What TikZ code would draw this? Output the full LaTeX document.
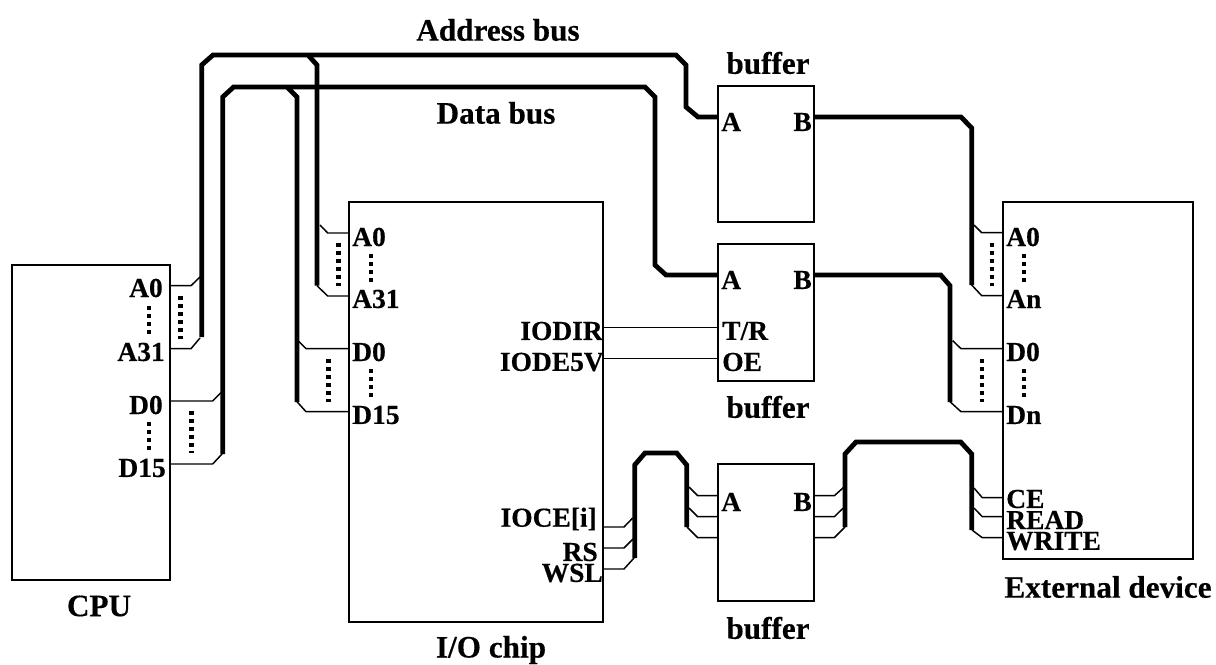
\documentclass[tikz,border=0pt]{standalone}
\usepackage{fontspec}
\setmainfont{Liberation Serif}[BoldFeatures={FakeBold=0.4}]
\tikzset{
  chipbox/.style 2 args={draw,line width=0.9pt,inner sep=0pt,outer sep=0pt,anchor=north west,minimum width=#1*0.75pt,minimum height=#2*0.75pt},
  buswire/.style={line width=3.6pt},
  thinwire/.style={line width=1.1pt},
  dotrun/.style={line width=3.5pt,dash pattern=on 3.3pt off 2.7pt},
  pinlabel/.style={font=\fontsize{20.6}{21}\selectfont\bfseries,inner sep=0pt},
  titlelabel/.style={font=\fontsize{23.4}{24}\selectfont\bfseries,inner sep=0pt}
}
\begin{document}
\begin{tikzpicture}[x=0.75pt,y=-0.75pt]
    \useasboundingbox (0,0) rectangle (1216,664);
    \begin{scope}
        % blocks
        \node[chipbox={158}{315}] (cpu) at (12,265) {};
        \node[chipbox={254}{420}] (iochip) at (349,202) {};
        \node[chipbox={96}{136}] (bufAddr) at (718,86) {};
        \node[chipbox={96}{137}] (bufData) at (718,244) {};
        \node[chipbox={96}{137}] (bufCtl) at (718,464) {};
        \node[chipbox={190}{357}] (extdev) at (1003,202) {};
        % titles
        \node[titlelabel] (addrTitle) at (498,30) {Address bus};
        \node[titlelabel] (dataTitle) at (496,113) {Data bus};
        \node[titlelabel] (bufAddrTitle) at (768,63) {buffer};
        \node[titlelabel] (bufDataTitle) at (768,407) {buffer};
        \node[titlelabel] (bufCtlTitle) at (768,628) {buffer};
        \node[titlelabel] (cpuTitle) at (99,606) {CPU};
        \node[titlelabel] (ioTitle) at (491,650) {I/O chip};
        \node[titlelabel] (extTitle) at (1108,587) {External device};
        % pin labels
        \foreach \nm/\x/\y/\txt in {cA0/163/288/A0,cA31/165/352/A31,cD0/163/405/D0,cD15/166/468/D15,
                ioCE/597/519/IOCE[i],ioRS/598/552/RS,ioWSL/603/573/WSL,ioDIR/603/331/IODIR,ioDE/604/362/IODE5V,
                bAB/812/122/B,bDB/812/280/B,bCB/812/502/B}
            \node[pinlabel,anchor=east] (\nm) at (\x,\y) {\txt};
        \foreach \nm/\x/\y/\txt in {iA0/352/237/A0,iA31/352/299/A31,iD0/352/352/D0,iD15/352/415/D15,
                bAA/721/122/A,bDA/721/280/A,bCA/721/502/A,bTR/722/331/{T/R},bOE/722/362/OE,
                eA0/1006/237/A0,eAn/1006/299/An,eD0/1006/352/D0,eDn/1006/415/Dn,
                eCE/1006/499/CE,eRD/1006/520/READ,eWR/1006/541/WRITE}
            \node[pinlabel,anchor=west] (\nm) at (\x,\y) {\txt};
        % bus ends on the blocks
        \coordinate (addrIn) at (bufAddr.west |- 0,117);
        \coordinate (addrOut) at (bufAddr.east |- 0,117);
        \coordinate (dataIn) at (bufData.west |- 0,275);
        \coordinate (dataOut) at (bufData.east |- 0,275);
        % buses
        \draw[buswire] (201.7,337) -- (201.7,65) -- (213,55) -- (676,55) -- (686,65) -- (686,107) -- (698,117) -- (addrIn);
        \draw[buswire] (308,55) -- (317,65) -- (317,285.7);
        \draw[buswire] (222.7,454) -- (222.7,97) -- (233.6,87) -- (645,87) -- (655,97) -- (655,265) -- (666,275) -- (dataIn);
        \draw[buswire] (287,87) -- (297,97) -- (297,402);
        \draw[buswire] (addrOut) -- (961,117) -- (971.7,128) -- (971.7,285);
        \draw[buswire] (dataOut) -- (940.7,275) -- (950,285.7) -- (950,402);
        \draw[buswire] (634.7,558) -- (634.7,465) -- (645,453) -- (676.7,453) -- (686.7,465) -- (686.7,527);
        \draw[buswire] (845,527) -- (845,454) -- (856,442) -- (960.7,442) -- (971.7,454) -- (971.7,530);
        % single wires from a block pin to its bus
        \foreach \x/\y/\xb/\xc/\yc in {170/285.7/191/200/277,170/348.7/191/200/338,170/401/212.7/221/392.7,170/464/212.7/222/454,
                349/233/327.7/320/225,349/296/327.7/317/285.7,349/348.7/306/298/340.7,349/411.7/306/297/401.7,
                603/527/624/632.7/518,603/548/624/633/539,603/569/624/634/558,
                718/495.7/697.7/689/487,718/516.7/697.7/689/508,718/537.7/697.7/687/527,
                814/495.7/834.3/843.3/487.7,814/516.7/834.3/843.3/508,814/537.7/834.3/845/527,
                1003/232.7/981.7/974/225,1003/295.7/981.7/971.7/285,1003/348.7/961/952.7/340.7,1003/411.7/961/950/401.7,
                1003/497.7/982.3/974/488,1003/516.7/982.3/974/508,1003/537.7/982.3/972/530}
            \draw[thinwire] (\x,\y) -- (\xb,\y) -- (\xc,\yc);
        % control lines
        \coordinate (dirOut) at (iochip.east |- 0,327.7);
        \coordinate (dirIn) at (bufData.west |- 0,327.7);
        \coordinate (deOut) at (iochip.east |- 0,358.7);
        \coordinate (deIn) at (bufData.west |- 0,358.7);
        \draw[thinwire] (dirOut) -- (dirIn);
        \draw[thinwire] (deOut) -- (deIn);
        % ellipsis marks
        \foreach \x/\ya/\yb in {180.3/296/339,191.7/411/453,338.7/243/286,328.7/359/402,992/243/286,982/359/402,
                149/306/334,149/422/450,371/254/282,371/369/397,1024/254/282,1024/369/397}
            \draw[dotrun] (\x,\ya) -- (\x,\yb);
    \end{scope}
\end{tikzpicture}
\end{document}
